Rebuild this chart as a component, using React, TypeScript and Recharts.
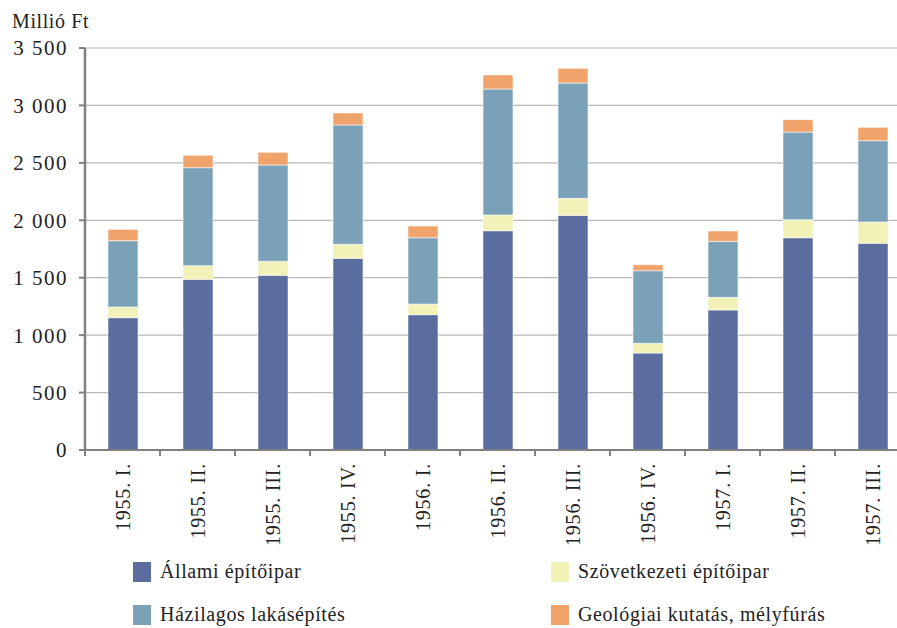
import React from 'react';
import { BarChart, Bar, XAxis, YAxis, CartesianGrid } from 'recharts';

const quarters = [
  '1955. I.', '1955. II.', '1955. III.', '1955. IV.', '1956. I.', '1956. II.',
  '1956. III.', '1956. IV.', '1957. I.', '1957. II.', '1957. III.',
];
const allami = [1152, 1486, 1521, 1669, 1178, 1909, 2043, 844, 1219, 1848, 1800];
const szovetkezeti = [93, 119, 122, 122, 93, 137, 148, 85, 110, 157, 185];
const hazilagos = [577, 853, 838, 1039, 577, 1097, 1004, 632, 488, 763, 708];
const geologiai = [99, 108, 111, 104, 102, 122, 128, 52, 90, 108, 116];
const yTicks = [0, 500, 1000, 1500, 2000, 2500, 3000, 3500];

const series = [
  { key: 'allami', name: 'Állami építőipar', color: '#5a6d9e' },
  { key: 'szovetkezeti', name: 'Szövetkezeti építőipar', color: '#f2f1b7' },
  { key: 'hazilagos', name: 'Házilagos lakásépítés', color: '#7ba1b9' },
  { key: 'geologiai', name: 'Geológiai kutatás, mélyfúrás', color: '#f0a36b' },
];

const data = quarters.map((q, i) => ({
  q,
  allami: allami[i],
  szovetkezeti: szovetkezeti[i],
  hazilagos: hazilagos[i],
  geologiai: geologiai[i],
}));

const font = '"Liberation Serif", "Times New Roman", serif';
const band = 75;

const fmt = (v: number) => (v >= 1000 ? `${Math.floor(v / 1000)} ${String(v % 1000).padStart(3, '0')}` : String(v));

const XTick = (props: any) => {
  const { x, y, payload, index } = props;
  return (
    <g>
      <line x1={x - band / 2} y1={y} x2={x - band / 2} y2={y + 6} stroke="#808080" strokeWidth={2} />
      {index === quarters.length - 1 && (
        <line x1={x + band / 2} y1={y} x2={x + band / 2} y2={y + 6} stroke="#808080" strokeWidth={2} />
      )}
      <text
        transform={`translate(${x},${y + 13}) rotate(-90)`}
        textAnchor="end"
        dominantBaseline="central"
        fontFamily={font}
        fontSize={20}
        letterSpacing={0.8}
        fill="#222"
      >
        {payload.value}
      </text>
    </g>
  );
};

export default function App() {
  return (
    <div style={{ position: 'absolute', left: 0, top: 0, width: 897, height: 628, overflow: 'hidden', background: '#fff' }}>
      <div
        style={{
          position: 'absolute',
          left: 12,
          top: 10,
          fontFamily: font,
          fontSize: 20,
          letterSpacing: 0.6,
          color: '#222',
        }}
      >
        Millió Ft
      </div>
      <BarChart
        width={920}
        height={628}
        data={data}
        barSize={30}
        margin={{ top: 48, right: 10, left: 0, bottom: 78 }}
      >
        <CartesianGrid vertical={false} stroke="#b8b8b8" strokeWidth={1.2} />
        <XAxis
          dataKey="q"
          height={100}
          interval={0}
          tickLine={false}
          tickSize={0}
          tickMargin={0}
          axisLine={{ stroke: '#808080', strokeWidth: 2 }}
          tick={<XTick />}
        />
        <YAxis
          width={85}
          domain={[0, 3500]}
          ticks={yTicks}
          interval={0}
          tickFormatter={fmt}
          tickSize={6}
          tickMargin={11}
          axisLine={{ stroke: '#808080', strokeWidth: 2.5 }}
          tickLine={{ stroke: '#808080', strokeWidth: 2 }}
          tick={{ fontFamily: font, fontSize: 21, fill: '#222', letterSpacing: 1.5 }}
        />
        {series.map((s) => (
          <Bar
            key={s.key}
            dataKey={s.key}
            name={s.name}
            stackId="a"
            fill={s.color}
            stroke="#ffffff"
            strokeOpacity={0.55}
            strokeWidth={1}
            isAnimationActive={false}
          />
        ))}
      </BarChart>
      <div
        style={{
          position: 'absolute',
          left: 133,
          top: 550,
          display: 'grid',
          gridTemplateColumns: '418px 320px',
          fontFamily: font,
          fontSize: 20,
          color: '#222',
          letterSpacing: 0.6,
        }}
      >
        {series.map((s) => (
          <div key={s.key} style={{ display: 'flex', alignItems: 'center', height: 43 }}>
            <span style={{ display: 'inline-block', width: 18, height: 20, background: s.color, marginRight: 9 }} />
            <span>{s.name}</span>
          </div>
        ))}
      </div>
    </div>
  );
}
